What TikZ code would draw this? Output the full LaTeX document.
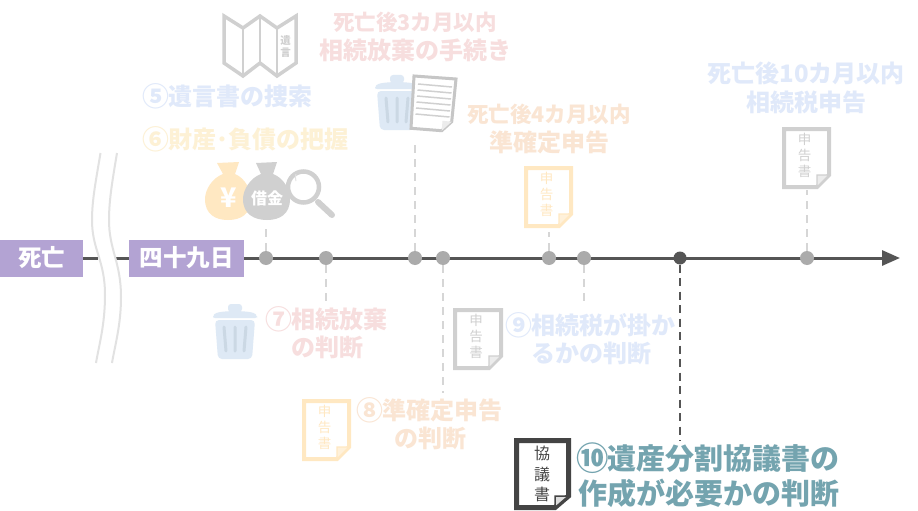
\documentclass[tikz,border=0pt]{standalone}
\usepackage{fontspec}
\usepackage{graphicx}
\setmainfont{Noto Sans CJK JP}
\usetikzlibrary{arrows.meta,backgrounds}
\definecolor{axis}{HTML}{555555}
\definecolor{dotgrey}{HTML}{ABABAB}
\definecolor{purple1}{HTML}{B3A3D3}
\definecolor{lblue}{HTML}{E0E9FA}
\definecolor{lyellow}{HTML}{FDF1D5}
\definecolor{lpink}{HTML}{F7DEDE}
\definecolor{lorange}{HTML}{FAE5D3}
\definecolor{teal1}{HTML}{74A4AF}
\definecolor{docorange}{HTML}{FFE8C2}
\definecolor{docgrey}{HTML}{D0D0D0}
\definecolor{docdark}{HTML}{444444}
\definecolor{trashfill}{HTML}{DEE9F5}
\definecolor{trashline}{HTML}{CBD8E4}
\definecolor{dashgrey}{HTML}{D6D6D6}
\definecolor{wavegrey}{HTML}{E2E2E2}
\tikzset{
  x=1pt,y=-1pt,
  lab/.style={inner sep=0pt,align=center,font=\bfseries\fontsize{24}{28.5}\selectfont},
  startbox/.style={fill=purple1,text=white,inner sep=0pt,font=\bfseries\fontsize{23.5}{26}\selectfont},
  tick/.style={circle,fill=dotgrey,inner sep=0pt,minimum size=14pt},
  faint/.style={draw=dashgrey,line width=2pt,dash pattern=on 8pt off 6pt},
  strong/.style={draw=axis,line width=2pt,dash pattern=on 8pt off 5.5pt},
  wave/.style={draw=wavegrey,line width=2pt},
  axisline/.style={draw=axis,line width=3pt},
  doctext/.style={inner sep=0pt,align=center},
}
\newcommand{\smalllab}{\fontsize{21.5}{28.5}\selectfont}
\newcommand{\midlab}{\fontsize{24}{28.5}\selectfont}
\newcommand{\circn}[1]{\makebox[1em][c]{\raisebox{-0.05em}{\scalebox{1.12}{#1}}}}
% name, x, y, w, h, border, fold fill, text colour, text
\newcommand{\docicon}[9]{%
  \draw[draw=#6,line width=4pt,fill=white,line join=miter]
    (#2,#3) -- ++(#4,0) -- ++(0,#5-12) -- ++(-12,12) -- ++(-#4+12,0) -- cycle;
  \fill[#7,draw=#6,line width=1.2pt] (#2+#4,#3+#5-12) -- ++(-12,0) -- ++(0,12) -- cycle;
  \node[doctext,text=#8,font=\fontsize{13.5}{16}\selectfont] (#1) at (#2+#4/2-2,#3+#5/2-3) {#9};%
}
\newcommand{\trashcan}[2]{%
  \begin{scope}[shift={(#1,#2)}]
    \fill[trashfill,rounded corners=3pt] (15,0) rectangle (29,8);
    \fill[trashfill,rounded corners=2pt] (0,12) .. controls (4,6) and (40,6) .. (44,12) -- (44,14) -- (0,14) -- cycle;
    \fill[trashfill,rounded corners=4pt] (2,16) -- (42,16) -- (39,55) -- (5,55) -- cycle;
    \draw[trashline,line width=3pt,line cap=round] (11,23) -- (13,47) (22,23) -- (22,47) (33,23) -- (31,47);
  \end{scope}%
}
\begin{document}
\begin{tikzpicture}
\useasboundingbox (0,0) rectangle (918,511);
\begin{scope}[on background layer]
  \fill[white] (0,0) rectangle (918,511);
\end{scope}

% start boxes
\node[startbox,minimum width=83pt,minimum height=37pt] (death) at (41.5,258) {死亡};
\node[startbox,minimum width=115pt,minimum height=37pt] (day49) at (186.5,258) {四十九日};

% ticks
\node[tick] (t1) at (266,258) {};
\node[tick] (t2) at (326,258) {};
\node[tick] (t3) at (415,258) {};
\node[tick] (t4) at (443,258) {};
\node[tick] (t5) at (549,258) {};
\node[tick] (t6) at (584,258) {};
\node[tick,fill=axis,minimum size=13pt] (t7) at (680,258) {};
\node[tick] (t8) at (807,258) {};

\coordinate (gapL) at (98,258);
\coordinate (gapR) at (116,258);
\coordinate (tip) at (900,258);
\begin{scope}[on background layer]
  \draw[axisline] (death.east) -- (gapL);
  \draw[axisline] (gapR) -- (day49.west);
  \draw[axisline,-{Triangle[length=18pt,width=15pt]}] (day49.east) -- (tip);
\end{scope}

% wave lines
\draw[wave] (100.5,153) .. controls (96,180) and (92,200) .. (92,220) .. controls (92,250) and (105,260) .. (105,295) .. controls (105,325) and (99,345) .. (96,363);
\draw[wave] (117,153) .. controls (112.5,180) and (109,200) .. (109,220) .. controls (109,250) and (121,262) .. (121,297) .. controls (121,325) and (115,345) .. (112,363);

% dashed connectors
\coordinate (e1) at (266,224);
\coordinate (e2) at (326,302);
\coordinate (e3) at (415,142);
\coordinate (e4) at (443,393);
\coordinate (e5) at (549,232);
\coordinate (e6) at (584,302);
\coordinate (e7) at (680,441);
\coordinate (e8) at (807,190);
\draw[faint] (t1.north) -- (e1);
\draw[faint] (t2.south) -- (e2);
\draw[faint] (t3.north) -- (e3);
\draw[faint] (t4.south) -- (e4);
\draw[faint] (t5.north) -- (e5);
\draw[faint] (t6.south) -- (e6);
\draw[strong] (t7.south) -- (e7);
\draw[faint] (t8.north) -- (e8);

% labels
\node[lab,text=lpink] (l3m) at (415,37) {{\smalllab 死亡後3カ月以内}\\相続放棄の手続き};
\node[lab,text=lblue] (l5) at (228,96) {\circn{⑤}遺言書の捜索};
\node[lab,text=lyellow] (l6) at (246,139) {\circn{⑥}財産･負債の把握};
\node[lab,text=lorange] (l4m) at (549,129) {{\smalllab 死亡後4カ月以内}\\準確定申告};
\node[lab,text=lblue] (l10m) at (806,88) {{\midlab 死亡後10カ月以内}\\相続税申告};
\node[lab,text=lpink] (l7) at (327,333) {\circn{⑦}相続放棄\\の判断};
\node[lab,text=lorange] (l8) at (430,424) {\circn{⑧}準確定申告\\の判断};
\node[lab,text=lblue] (l9) at (591,339) {\circn{⑨}相続税が掛か\\るかの判断};
\node[lab,text=teal1,anchor=west,align=left,font=\bfseries\fontsize{29}{35}\selectfont] (l10) at (578,475) {\circn{⑩}遺産分割協議書の\\作成が必要かの判断};

% map icon
\draw[docgrey,line width=3.5pt,line join=miter,fill=white]
  (224,16) -- (243,28) -- (260,16) -- (277,28) -- (296,16) -- (296,63) -- (277,76) -- (260,63) -- (243,76) -- (224,63) -- cycle;
\draw[docgrey,line width=2.5pt] (243,28) -- (243,76) (260,16) -- (260,63) (277,28) -- (277,76);
\node[doctext,text=docgrey,font=\bfseries\fontsize{10.5}{12}\selectfont] (mapt) at (285.5,46.5) {遺\\言};

% trash cans
\trashcan{375}{75}
\trashcan{213}{304}

% paper
\draw[line width=3pt,draw=docgrey!95!black,fill=white,line join=miter]
  (414,76) -- (456,79) -- (451.7,121.7) -- (441.7,130.7) -- (411,128.3) -- cycle;
\fill[docgrey!40] (451.7,121.7) -- (442.5,120.8) -- (441.7,130.7) -- cycle;
\draw[docgrey,line width=1.5pt]
  (418,84) -- (452,87) (417.5,90) -- (451.5,93) (417,96) -- (451,99) (416.5,102) -- (450.5,105)
  (416,108) -- (450,111) (415.5,114) -- (449.5,117);

% money bags
\fill[docorange] (217,163) -- (239,162) -- (235,174)
  .. controls (245,178) and (251,190) .. (251,199) .. controls (251,214) and (241,220) .. (228,220)
  .. controls (215,220) and (205,214) .. (205,199) .. controls (205,190) and (212,178) .. (223,174) -- cycle;
\node[inner sep=0pt,text=white,font=\bfseries\fontsize{27}{27}\selectfont] (yen) at (229,198) {¥};
\fill[docgrey] (256,163) -- (277,162) -- (273,174)
  .. controls (284,178) and (290,190) .. (290,199) .. controls (290,214) and (280,220) .. (267,220)
  .. controls (254,220) and (243,214) .. (243,199) .. controls (243,190) and (250,178) .. (261,174) -- cycle;
\node[inner sep=0pt,text=white,font=\bfseries\fontsize{16}{16}\selectfont] (debt) at (267,198) {借金};

% magnifier
\draw[docgrey,line width=4.5pt,fill=white] (303.5,187) circle (15.5);
\draw[docgrey,line width=6pt,line cap=round] (318,202) -- (332,215);
\draw[docgrey!60,line width=1pt] (296,181) arc (160:200:10);

% document icons
\docicon{d4}{526}{168}{45}{58}{docorange}{docorange!60}{docorange}{申\\告\\書}
\docicon{d10}{784}{129}{45}{58}{docgrey}{docgrey!40}{docgrey}{申\\告\\書}
\docicon{d9}{455}{310}{46}{58}{docgrey}{docgrey!40}{docgrey}{申\\告\\書}
\docicon{d8}{304}{401}{45}{58}{docorange}{docorange!60}{docorange}{申\\告\\書}

% final document
\draw[draw=docdark,line width=5pt,fill=white,line join=miter]
  (516.5,440.5) -- (568.5,440.5) -- (568.5,496) -- (555,507.5) -- (516.5,507.5) -- cycle;
\fill[docgrey!70,draw=docdark,line width=1.5pt] (568.5,496) -- (555,496) -- (555,507.5) -- cycle;
\node[doctext,text=docdark,font=\fontsize{16}{20.5}\selectfont] (d10f) at (542,474) {協\\議\\書};
\end{tikzpicture}
\end{document}
